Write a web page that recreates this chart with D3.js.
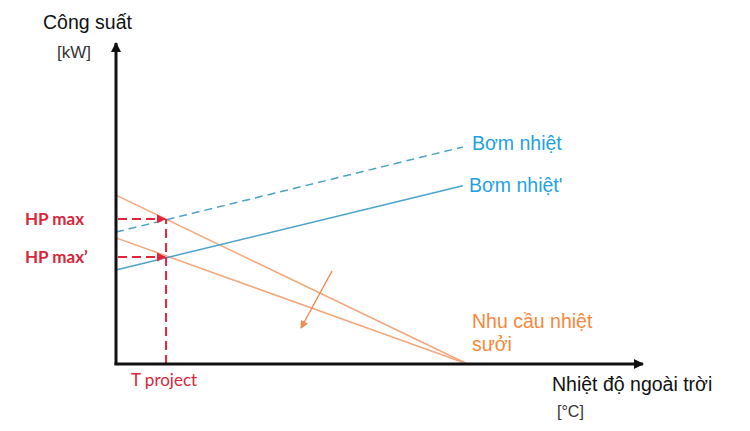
<!DOCTYPE html>
<html>
<head>
<meta charset="utf-8">
<script src="https://cdn.jsdelivr.net/npm/d3@7"></script>
<style>
  body { margin: 0; background: #fff; }
  text { font-family: "Liberation Sans", Arial, sans-serif; }
</style>
</head>
<body>
<div id="chart"></div>
<script>
// Abstract units (schematic chart, no ticks)
const heatPump = [{ x: 0, y: 4.11 }, { x: 6.58, y: 6.76 }];      // Bơm nhiệt (dashed)
const heatPump2 = [{ x: 0, y: 2.93 }, { x: 6.58, y: 5.55 }];     // Bơm nhiệt'
const demand1 = [{ x: 0, y: 5.26 }, { x: 6.67, y: 0 }];          // steep demand line
const demand2 = [{ x: 0, y: 3.93 }, { x: 6.67, y: 0 }];
const shiftArrow = [{ x: 4.10, y: 2.90 }, { x: 3.51, y: 1.12 }];
const tProject = 0.95;
const hpLevels = [{ label: 'HP max', y: 4.52 }, { label: 'HP max\u2019', y: 3.33 }];

const width = 750;
const height = 431;
const margin = { top: 43, right: 107, bottom: 67, left: 116 };

const svg = d3.select('#chart')
  .append('svg')
  .attr('width', width)
  .attr('height', height);

const xScale = d3.scaleLinear()
  .domain([0, 10])
  .range([margin.left, width - margin.right]);

const yScale = d3.scaleLinear()
  .domain([0, 10])
  .range([height - margin.bottom, margin.top]);

const line = d3.line().x(d => xScale(d.x)).y(d => yScale(d.y));

// Arrow markers
const defs = svg.append('defs');
function marker(id, color, size) {
  defs.append('marker')
    .attr('id', id)
    .attr('viewBox', '0 0 10 10')
    .attr('refX', 9)
    .attr('refY', 5)
    .attr('markerWidth', size)
    .attr('markerHeight', size)
    .attr('markerUnits', 'userSpaceOnUse')
    .attr('orient', 'auto')
    .append('path')
    .attr('d', 'M0,0 L10,5 L0,10 z')
    .attr('fill', color);
}
marker('arrBlack', '#111', 10);
marker('arrRed', '#e5243b', 9);
marker('arrOrange', '#f08a50', 8);

// Demand lines
[demand1, demand2].forEach(d => {
  svg.append('path')
    .datum(d)
    .attr('d', line)
    .attr('fill', 'none')
    .attr('stroke', '#f5a77a')
    .attr('stroke-width', 1.5);
});

svg.append('path')
  .datum(shiftArrow)
  .attr('d', line)
  .attr('fill', 'none')
  .attr('stroke', '#f08a50')
  .attr('stroke-width', 1.3)
  .attr('marker-end', 'url(#arrOrange)');

// Heat pump lines
svg.append('path')
  .datum(heatPump)
  .attr('d', line)
  .attr('fill', 'none')
  .attr('stroke', '#4ba3c9')
  .attr('stroke-width', 1.5)
  .attr('stroke-dasharray', '8,5');

svg.append('path')
  .datum(heatPump2)
  .attr('d', line)
  .attr('fill', 'none')
  .attr('stroke', '#4ba3c9')
  .attr('stroke-width', 1.5);

// HP max guides
hpLevels.forEach(h => {
  svg.append('line')
    .attr('x1', xScale(0) + 2)
    .attr('x2', xScale(tProject) - 1)
    .attr('y1', yScale(h.y))
    .attr('y2', yScale(h.y))
    .attr('stroke', '#e5243b')
    .attr('stroke-width', 2)
    .attr('stroke-dasharray', '9,5')
    .attr('marker-end', 'url(#arrRed)');

  svg.append('text')
    .attr('x', 25)
    .attr('y', yScale(h.y) + 6)
    .style('font-family', 'Lato, "Open Sans", sans-serif')
    .style('font-weight', 'bold')
    .style('font-size', '17px')
    .style('fill', '#d9263a')
    .text(h.label);
});

svg.append('line')
  .attr('x1', xScale(tProject))
  .attr('x2', xScale(tProject))
  .attr('y1', yScale(0))
  .attr('y2', yScale(hpLevels[0].y))
  .attr('stroke', '#e5243b')
  .attr('stroke-width', 2)
  .attr('stroke-dasharray', '9,5');

svg.append('text')
  .attr('x', xScale(tProject) - 2)
  .attr('y', 386)
  .attr('text-anchor', 'middle')
  .style('font-family', 'Lato, "Open Sans", sans-serif')
  .style('font-size', '17px')
  .style('fill', '#d9263a')
  .text('T project');

// Axes
svg.append('line')
  .attr('x1', xScale(0))
  .attr('x2', xScale(0))
  .attr('y1', yScale(0) + 1)
  .attr('y2', yScale(10))
  .attr('stroke', '#111')
  .attr('stroke-width', 3)
  .attr('marker-end', 'url(#arrBlack)');

svg.append('line')
  .attr('x1', xScale(0) - 1.5)
  .attr('x2', xScale(10))
  .attr('y1', yScale(0))
  .attr('y2', yScale(0))
  .attr('stroke', '#111')
  .attr('stroke-width', 3)
  .attr('marker-end', 'url(#arrBlack)');

// Axis titles
svg.append('text').attr('x', 43).attr('y', 29)
  .style('font-size', '19.5px').style('fill', '#111').text('Công suất');
svg.append('text').attr('x', 57).attr('y', 58)
  .style('font-size', '17px').style('fill', '#333').text('[kW]');
svg.append('text').attr('x', 552).attr('y', 391)
  .style('font-size', '19.5px').style('fill', '#111').text('Nhiệt độ ngoài trời');
svg.append('text').attr('x', 557).attr('y', 417)
  .style('font-size', '16px').style('fill', '#333').text('[°C]');

// Series labels
svg.append('text').attr('x', 472).attr('y', 150)
  .style('font-size', '19.5px').style('fill', '#1ea2e3').text('Bơm nhiệt');
svg.append('text').attr('x', 469).attr('y', 192)
  .style('font-size', '19.5px').style('fill', '#1ea2e3').text('Bơm nhiệt\'');
svg.append('text').attr('x', 472).attr('y', 328)
  .style('font-size', '19.5px').style('fill', '#f7873a').text('Nhu cầu nhiệt');
svg.append('text').attr('x', 472).attr('y', 351)
  .style('font-size', '19.5px').style('fill', '#f7873a').text('sưởi');
</script>
</body>
</html>
